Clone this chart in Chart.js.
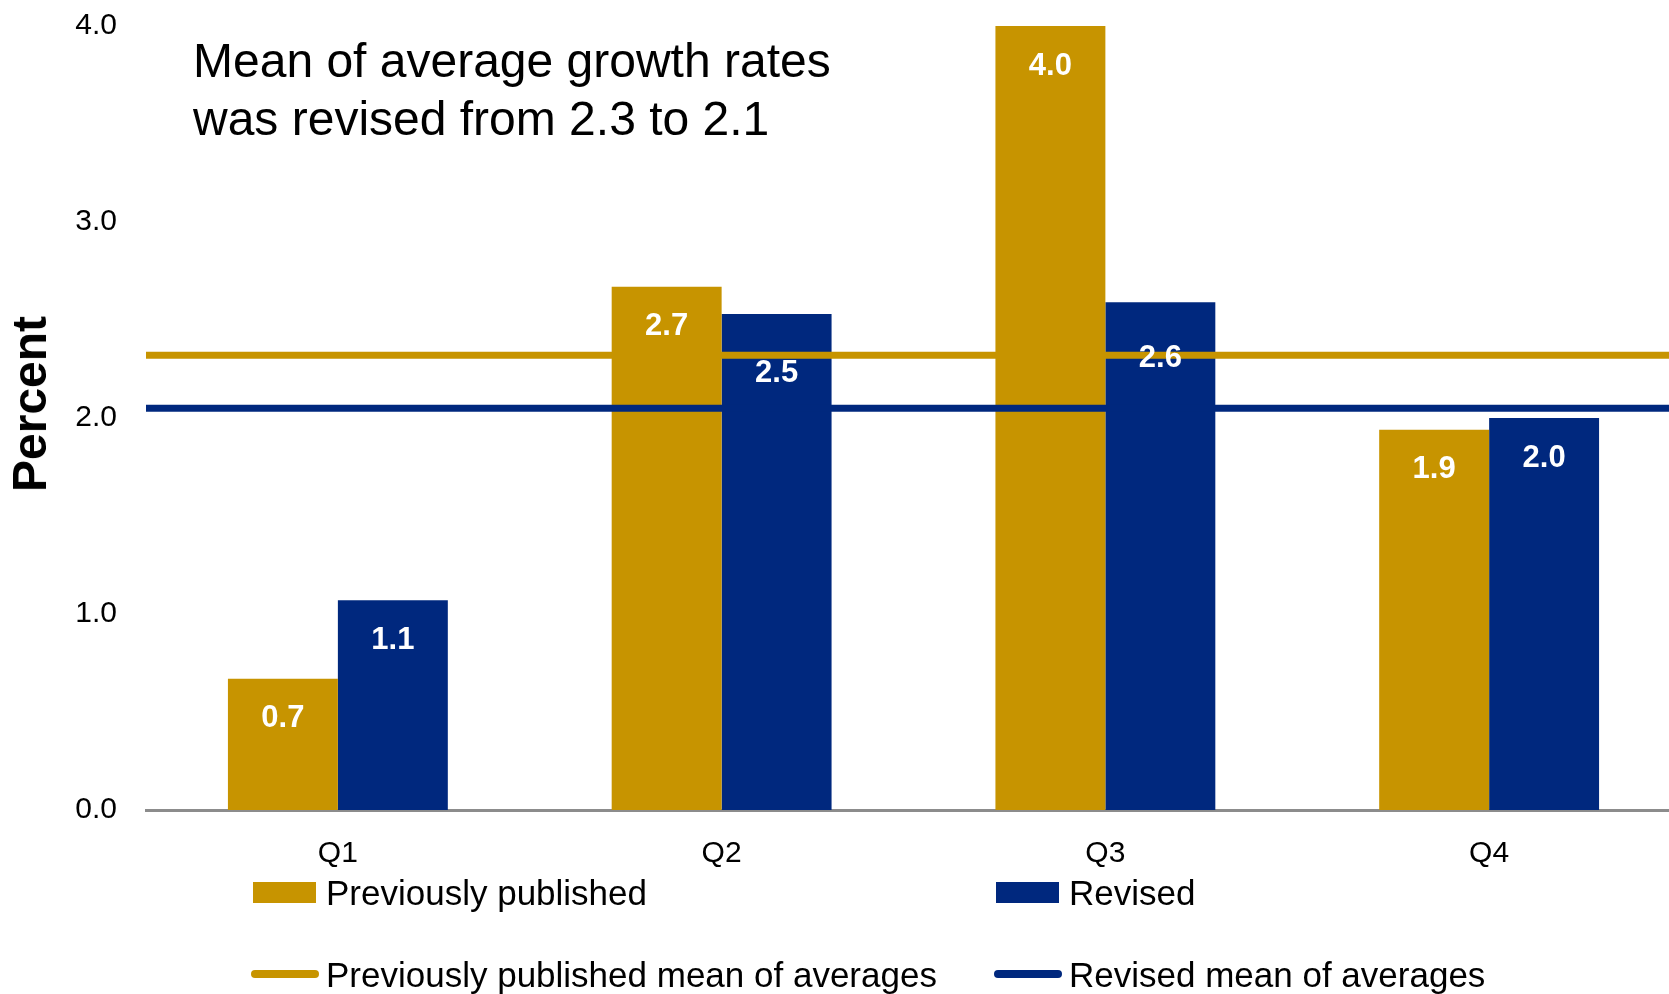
<!DOCTYPE html>
<html>
<head>
<meta charset="utf-8">
<script src="https://cdn.jsdelivr.net/npm/chart.js@4.4.1/dist/chart.umd.min.js"></script>
<style>
  body { margin: 0; background: #fff; font-family: 'Liberation Sans', Arial, sans-serif; }
  #wrap { position: relative; width: 1669px; height: 994px; overflow: hidden; }
  #chart { position: absolute; left: 0; top: 0; }
  .note { position: absolute; left: 193px; top: 32px; font-size: 48px; line-height: 58px; color: #000; white-space: nowrap; }
  .ytitle { position: absolute; left: 30px; top: 404px; font-size: 48px; line-height: 48px; font-weight: bold;
            transform: translate(-50%, -50%) rotate(-90deg); white-space: nowrap; }
  .lg { position: absolute; font-size: 35px; line-height: 35px; color: #000; white-space: nowrap; }
  .sw { position: absolute; }
</style>
</head>
<body>
<div id="wrap">
  <canvas id="chart" width="1681" height="994"></canvas>
  <div class="note">Mean of average growth rates<br>was revised from 2.3 to 2.1</div>
  <div class="ytitle">Percent</div>
  <div id="legend"></div>
</div>
<script>
// datos del grafico
const categorias = ['Q1', 'Q2', 'Q3', 'Q4'];
const publicado = [0.67, 2.67, 4.0, 1.94];
const revisado = [1.07, 2.53, 2.59, 2.0];
const medias = [2.32, 2.05];
const nombresMedias = ['Previously published mean of averages', 'Revised mean of averages'];
const ticksY = [0, 1, 2, 3, 4];

const ORO = '#c79400';
const AZUL = '#00287e';
const coloresMedias = [ORO, AZUL];

// lineas de media (sobre las barras) y etiquetas blancas
const mediasYEtiquetas = {
  id: 'mediasYEtiquetas',
  afterDatasetsDraw(chart, args, opts) {
    const ctx = chart.ctx;
    const area = chart.chartArea;
    const y = chart.scales.y;
    ctx.save();
    medias.forEach((m, i) => {
      const py = y.getPixelForValue(m);
      ctx.strokeStyle = coloresMedias[i];
      ctx.lineWidth = 7;
      ctx.beginPath();
      ctx.moveTo(area.left, py);
      ctx.lineTo(area.right, py);
      ctx.stroke();
    });

    ctx.fillStyle = '#fff';
    ctx.font = "bold 31px 'Liberation Sans', Arial, sans-serif";
    ctx.textAlign = 'center';
    ctx.textBaseline = 'middle';
    chart.data.datasets.forEach((ds, i) => {
      chart.getDatasetMeta(i).data.forEach((bar, j) => {
        const extra = (opts.bajar[i] && opts.bajar[i][j]) || 0;
        ctx.fillText(ds.data[j].toFixed(1), bar.x, bar.y + 40 + extra);
      });
    });
    ctx.restore();
  }
};

const ctx = document.getElementById('chart').getContext('2d');
Chart.defaults.font.family = "'Liberation Sans', Arial, sans-serif";
Chart.defaults.color = '#000';

const chart = new Chart(ctx, {
  type: 'bar',
  data: {
    labels: categorias,
    datasets: [
      { label: 'Previously published', data: publicado, backgroundColor: ORO,
        barPercentage: 1, categoryPercentage: 0.573 },
      { label: 'Revised', data: revisado, backgroundColor: AZUL,
        barPercentage: 1, categoryPercentage: 0.573 }
    ]
  },
  options: {
    responsive: false,
    animation: false,
    layout: { padding: { top: 26, bottom: 96, left: 0, right: 0 } },
    plugins: {
      legend: { display: false },
      tooltip: { enabled: false },
      mediasYEtiquetas: { bajar: { 1: { 1: 19, 2: 16 } } }
    },
    scales: {
      x: {
        grid: { display: false, drawTicks: false },
        border: { display: true, color: '#8c8c8c', width: 3 },
        ticks: { font: { size: 30 }, padding: 26 }
      },
      y: {
        min: 0, max: 4,
        afterFit(scale) { scale.width = 146; scale.paddingTop = 0; },
        afterBuildTicks(scale) { scale.ticks = ticksY.map(v => ({ value: v })); },
        grid: { display: false, drawTicks: false },
        border: { display: false },
        ticks: { font: { size: 30 }, padding: 29, callback: v => v.toFixed(1) }
      }
    }
  },
  plugins: [mediasYEtiquetas]
});

// leyenda en html, dos columnas
const leyenda = document.getElementById('legend');
const items = [
  { x: 253, y: 875, caja: true, color: ORO, texto: chart.data.datasets[0].label },
  { x: 996, y: 875, caja: true, color: AZUL, texto: chart.data.datasets[1].label },
  { x: 251, y: 957, caja: false, color: coloresMedias[0], texto: nombresMedias[0] },
  { x: 994, y: 957, caja: false, color: coloresMedias[1], texto: nombresMedias[1] }
];
items.forEach(p => {
  const sw = document.createElement('div');
  sw.className = 'sw';
  if (p.caja) {
    sw.style.cssText = `left:${p.x}px;top:${p.y + 7}px;width:63px;height:21px;background:${p.color}`;
  } else {
    sw.style.cssText = `left:${p.x}px;top:${p.y + 13}px;width:68px;height:8px;border-radius:4px;background:${p.color}`;
  }
  const txt = document.createElement('div');
  txt.className = 'lg';
  txt.style.left = (p.x + (p.caja ? 73 : 75)) + 'px';
  txt.style.top = p.y + 'px';
  txt.textContent = p.texto;
  leyenda.appendChild(sw);
  leyenda.appendChild(txt);
});
</script>
</body>
</html>
